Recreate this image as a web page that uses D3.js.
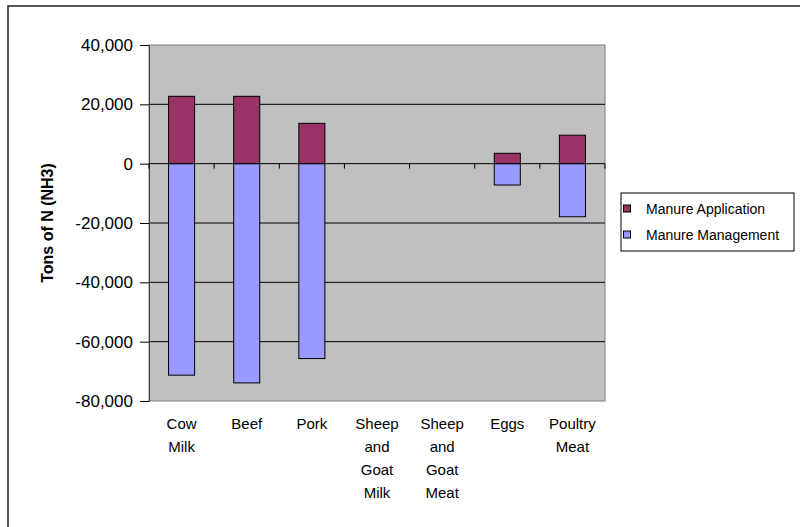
<!DOCTYPE html>
<html><head><meta charset="utf-8">
<script src="https://cdn.jsdelivr.net/npm/d3@7"></script>
<style>body{margin:0;background:#fff;}svg{display:block;font-family:"Liberation Sans",Arial,sans-serif;}</style>
</head><body>
<svg id="c" width="800" height="527"></svg>
<script>
const categories = [["Cow","Milk"],["Beef"],["Pork"],["Sheep","and","Goat","Milk"],["Sheep","and","Goat","Meat"],["Eggs"],["Poultry","Meat"]];
const manureApplication = [22700, 22700, 13600, 0, 0, 3500, 9600];
const manureManagement = [-71300, -73900, -65700, 0, 0, -7200, -17900];
const seriesNames = ["Manure Application", "Manure Management"];
const seriesColors = ["#993366", "#9999FF"];
const yTicks = [40000, 20000, 0, -20000, -40000, -60000, -80000];

const svg = d3.select("#c");
const m = {l:149, t:45, r:605, b:401};

// outer chart border (only top/left visible)
svg.append("rect").attr("x",8).attr("y",6).attr("width",900).attr("height",700)
  .attr("fill","none").attr("stroke","#222").attr("stroke-width",1.5);

const x = d3.scaleBand().domain(d3.range(categories.length)).range([m.l, m.r]).paddingInner(0).paddingOuter(0);
const y = d3.scaleLinear().domain([-80000, 40000]).range([m.b, m.t]);

svg.append("rect").attr("x",m.l).attr("y",m.t).attr("width",m.r-m.l).attr("height",m.b-m.t)
  .attr("fill","#C0C0C0").attr("stroke","#808080").attr("stroke-width",1);

// gridlines
svg.append("g").selectAll("line").data(yTicks.filter(d=>d!==40000 && d!==-80000 && d!==0)).join("line")
  .attr("x1",m.l).attr("x2",m.r).attr("y1",d=>y(d)).attr("y2",d=>y(d))
  .attr("stroke","#000").attr("stroke-width",1);

// bars
const bw = x.bandwidth()*0.4;
const data = categories.map((c,i)=>({i, a:manureApplication[i], mm:manureManagement[i]}));
const barsG = svg.append("g");
data.forEach(d=>{
  const cx = x(d.i) + x.bandwidth()/2;
  if (d.a !== 0) barsG.append("rect").attr("x",cx-bw/2).attr("width",bw)
    .attr("y",y(d.a)).attr("height",y(0)-y(d.a)).attr("fill",seriesColors[0]).attr("stroke","#000").attr("stroke-width",1);
  if (d.mm !== 0) barsG.append("rect").attr("x",cx-bw/2).attr("width",bw)
    .attr("y",y(0)).attr("height",y(d.mm)-y(0)).attr("fill",seriesColors[1]).attr("stroke","#000").attr("stroke-width",1);
});

// y axis
const fmt = d3.format(",");
const yAxis = d3.axisLeft(y).tickValues(yTicks).tickSize(9).tickPadding(7)
  .tickFormat(d => fmt(d).replace("\u2212","-"));
const ya = svg.append("g").attr("transform",`translate(${m.l},0)`).call(yAxis);
ya.select(".domain").attr("stroke","#404040");
ya.selectAll("line").attr("stroke","#000");
ya.selectAll("text").attr("font-size",17).attr("fill","#000").attr("font-family","Liberation Sans, Arial, sans-serif");

// x axis at zero
const xAxisG = svg.append("g").attr("transform",`translate(0,${y(0)})`);
xAxisG.append("line").attr("x1",m.l).attr("x2",m.r).attr("stroke","#000").attr("stroke-width",1);
xAxisG.selectAll("line.t").data(d3.range(categories.length+1)).join("line").attr("class","t")
  .attr("x1",d=>m.l + d*x.bandwidth()).attr("x2",d=>m.l + d*x.bandwidth()).attr("y1",0).attr("y2",5)
  .attr("stroke","#000");

// category labels
const lab = svg.append("g");
categories.forEach((c,i)=>{
  const t = lab.append("text").attr("x", x(i)+x.bandwidth()/2).attr("y",429)
    .attr("text-anchor","middle").attr("font-size",15).attr("fill","#000");
  c.forEach((w,j)=>t.append("tspan").attr("x", x(i)+x.bandwidth()/2).attr("y",429+j*23).text(w));
});

// y title
svg.append("text").attr("transform",`translate(53,${(m.t+m.b)/2}) rotate(-90)`)
  .attr("text-anchor","middle").attr("font-size",16).attr("font-weight","bold").text("Tons of N (NH3)");

// legend
const lg = svg.append("g");
lg.append("rect").attr("x",621).attr("y",193).attr("width",173).attr("height",58)
  .attr("fill","#fff").attr("stroke","#000").attr("stroke-width",1);
seriesNames.forEach((n,i)=>{
  const yy = 208.5 + i*26;
  lg.append("rect").attr("x",623.5).attr("y",yy-3.5).attr("width",7).attr("height",7)
    .attr("fill",seriesColors[i]).attr("stroke","#000").attr("stroke-width",1);
  lg.append("text").attr("x",646).attr("y",yy+5).attr("font-size",14).text(n);
});
</script>
</body></html>
